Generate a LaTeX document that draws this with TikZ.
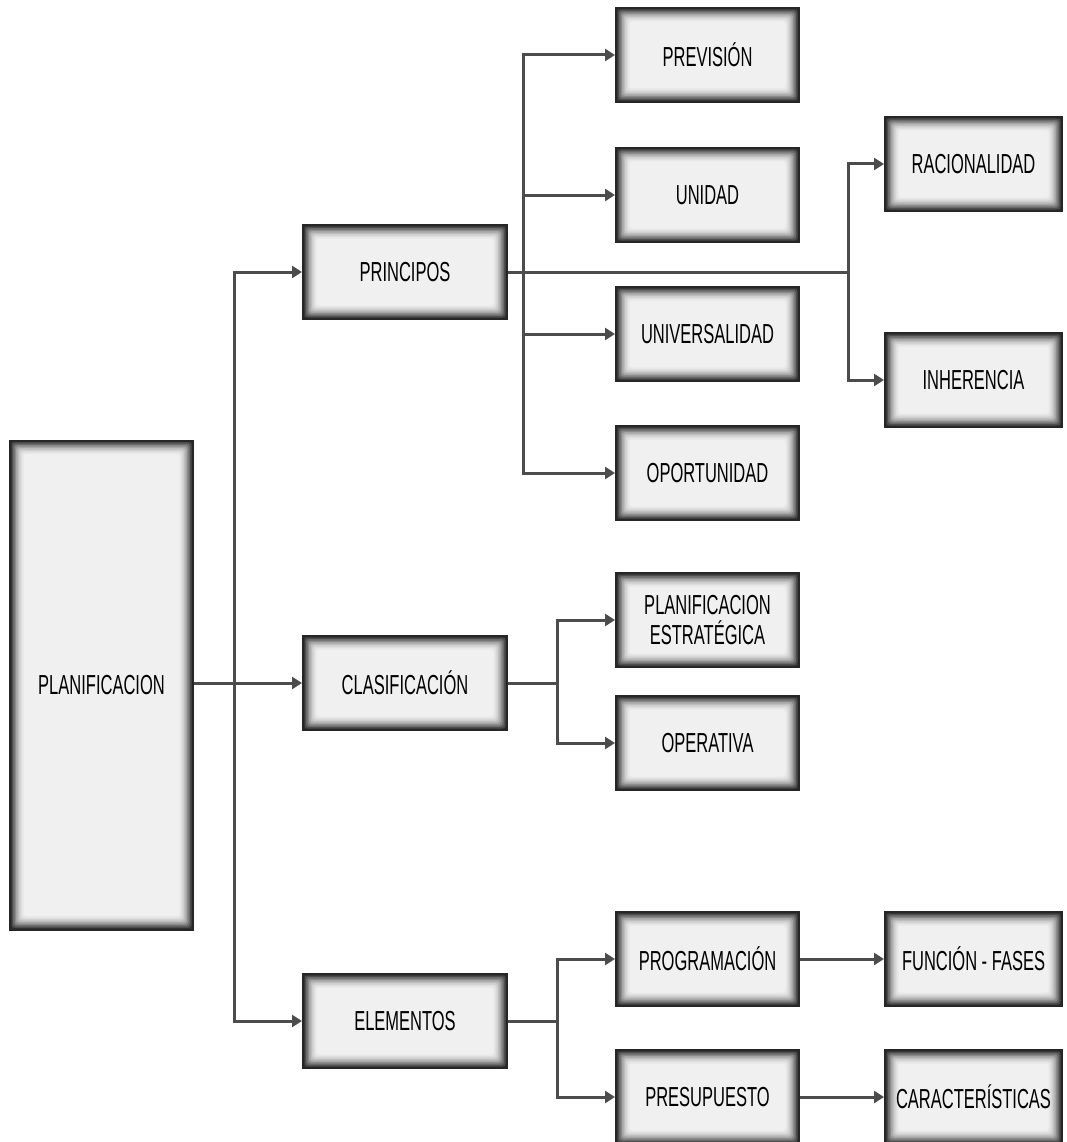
\documentclass[tikz,border=0pt]{standalone}
\usepackage{fontspec}
\setmainfont{Liberation Sans}[FakeStretch=0.6]
\usetikzlibrary{arrows.meta}

\tikzset{
  caja/.style={draw=black!85, line width=2pt, minimum width=183pt, minimum height=94pt,
    inner sep=2pt, align=center, text=black, font=\fontsize{27.5}{30}\selectfont,
    path picture={
      \foreach \d/\c in {0/82,1.5/70,3/58,4.5/46,6/35,7.5/26,9/19,10.5/13,12/9,13.5/6}
        \fill[black!\c, rounded corners=3pt]
          ([shift={(\d pt,\d pt)}]path picture bounding box.south west) rectangle
          ([shift={(-\d pt,-\d pt)}]path picture bounding box.north east);
    }},
  linea/.style={draw=black!70, line width=3pt},
  flecha/.style={linea, -{Triangle[length=10pt,width=12pt]}},
}

\begin{document}
\begin{tikzpicture}[x=1pt,y=-1pt]
   \useasboundingbox (0,0) rectangle (1066,1142);
   % cajas
   \node[caja, minimum height=489pt] (plan)   at (101.5,685) {PLANIFICACION};
   \node[caja, minimum width=204pt]  (princ)  at (405,272)   {PRINCIPOS};
   \node[caja, minimum width=204pt]  (clasif) at (405,683)   {CLASIFICACIÓN};
   \node[caja, minimum width=204pt]  (elem)   at (405,1021)  {ELEMENTOS};
   \node[caja] (prev)   at (707.5,55)   {PREVISIÓN};
   \node[caja] (unid)   at (707.5,195)  {UNIDAD};
   \node[caja] (univ)   at (707.5,334)  {UNIVERSALIDAD};
   \node[caja] (oport)  at (707.5,473)  {OPORTUNIDAD};
   \node[caja] (estrat) at (707.5,620)  {PLANIFICACION\\ESTRATÉGICA};
   \node[caja] (oper)   at (707.5,743)  {OPERATIVA};
   \node[caja] (progr)  at (707.5,959)  {PROGRAMACIÓN};
   \node[caja] (presu)  at (707.5,1097) {PRESUPUESTO};
   \node[caja, minimum width=177pt] (racio)   at (973.5,164)  {RACIONALIDAD};
   \node[caja, minimum width=177pt] (inher)   at (973.5,380)  {INHERENCIA};
   \node[caja, minimum width=177pt] (funcion) at (973.5,959)  {FUNCIÓN - FASES};
   \node[caja, minimum width=177pt] (caract)  at (973.5,1097) {CARACTERÍSTICAS};
   % barras verticales
   \coordinate (tr) at (234,0);
   \coordinate (b1) at (523,0);
   \coordinate (b2) at (848,0);
   \coordinate (b3) at (557,0);
   % conectores
   \draw[flecha] (plan.east |- clasif) -- (clasif.west);
   \draw[flecha] (tr |- clasif) |- (princ.west);
   \draw[flecha] (tr |- clasif) |- (elem.west);
   \draw[linea] (princ.east) -- (b2 |- princ);
   \foreach \n in {prev,unid,univ,oport}
      \draw[flecha] (b1 |- princ) |- (\n.west);
   \foreach \n in {racio,inher}
      \draw[flecha] (b2 |- princ) |- (\n.west);
   \draw[linea] (clasif.east) -- (b3 |- clasif);
   \foreach \n in {estrat,oper}
      \draw[flecha] (b3 |- clasif) |- (\n.west);
   \draw[linea] (elem.east) -- (b3 |- elem);
   \foreach \n in {progr,presu}
      \draw[flecha] (b3 |- elem) |- (\n.west);
   \draw[flecha] (progr.east) -- (funcion.west);
   \draw[flecha] (presu.east) -- (caract.west);
\end{tikzpicture}
\end{document}
